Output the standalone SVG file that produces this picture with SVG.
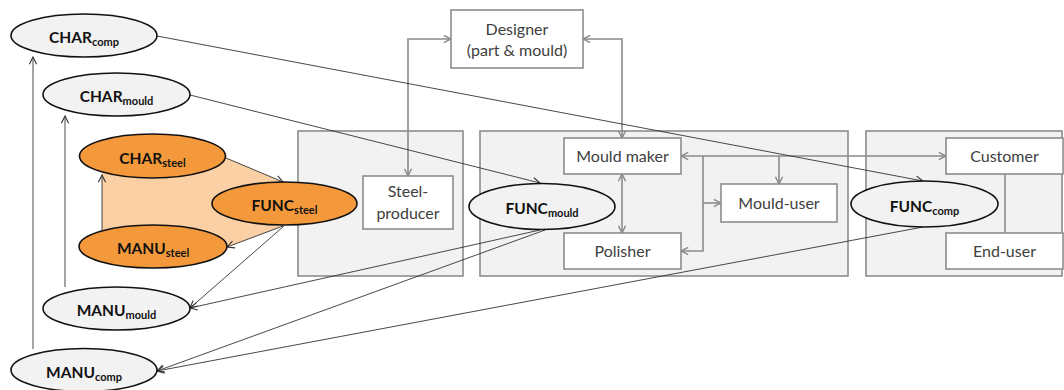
<svg xmlns="http://www.w3.org/2000/svg" width="1064" height="390" viewBox="0 0 1064 390">
<defs>
<marker id="ad" viewBox="0 0 10 10" refX="9" refY="5" markerWidth="9" markerHeight="9" markerUnits="userSpaceOnUse" orient="auto-start-reverse"><path d="M1,1 L9,5 L1,9" fill="none" stroke="#333" stroke-width="1.2"/></marker>
<marker id="ag" viewBox="0 0 10 10" refX="9" refY="5" markerWidth="9" markerHeight="9" markerUnits="userSpaceOnUse" orient="auto-start-reverse"><path d="M1,1 L9,5 L1,9" fill="none" stroke="#8a8a8a" stroke-width="1.6"/></marker>
</defs>
<style>
.panel{fill:#f2f2f2;stroke:#8c8c8c;stroke-width:1.6}
.box{fill:#fff;stroke:#8c8c8c;stroke-width:1.6}
.gl{fill:none;stroke:#8a8a8a;stroke-width:1.6}
.dl{fill:none;stroke:#333;stroke-width:0.9}
.eg{fill:#f2f2f2;stroke:#111;stroke-width:1.6}
.eo{fill:#f4993b;stroke:#111;stroke-width:1.6}
.bt{font-family:Lato,"Open Sans",sans-serif;font-size:16px;fill:#404040;text-anchor:middle}
.et{font-family:Lato,"Open Sans",sans-serif;font-size:15.5px;font-weight:bold;fill:#111;text-anchor:middle}
.sub{font-size:11px}
</style>
<rect width="1064" height="390" fill="#fff"/>
<g id="panels">
<rect class="panel" x="298" y="131" width="165" height="145"/>
<rect class="panel" x="480" y="131" width="368" height="145"/>
<rect class="panel" x="866" y="131" width="196" height="145"/>
</g>
<polygon points="102,158 226,158 283,182 283,226 227,247 102,247" fill="#fad0a4"/>
<g id="connectors">
<path class="gl" d="M408,176 V39 H451" marker-start="url(#ag)" marker-end="url(#ag)"/>
<path class="gl" d="M622,138 V39 H583" marker-start="url(#ag)" marker-end="url(#ag)"/>
<path class="gl" d="M622,174 V233" marker-start="url(#ag)" marker-end="url(#ag)"/>
<path class="gl" d="M681,156 H946" marker-start="url(#ag)" marker-end="url(#ag)"/>
<path class="gl" d="M703,156 V251 H681" marker-end="url(#ag)"/>
<path class="gl" d="M703,203 H721" marker-end="url(#ag)"/>
<path class="gl" d="M779,156 V184" marker-end="url(#ag)"/>
<path class="gl" d="M1005,174 V233"/>
<path class="dl" d="M157,36 L923,181" marker-end="url(#ad)"/>
<path class="dl" d="M190,95 L540,183" marker-end="url(#ad)"/>
<path class="dl" d="M540,230 L190,308" marker-end="url(#ad)"/>
<path class="dl" d="M545,230 L157,371" marker-end="url(#ad)"/>
<path class="dl" d="M923,227 L157,371" marker-end="url(#ad)"/>
<path class="dl" d="M284,226 L190,308" marker-end="url(#ad)"/>
<path class="dl" d="M33,349 V57" marker-end="url(#ad)"/>
<path class="dl" d="M65,287 V116" marker-end="url(#ad)"/>
<path class="dl" d="M102,230 V175" marker-end="url(#ad)"/>
<path class="dl" d="M226,158 L283,182" marker-end="url(#ad)"/>
<path class="dl" d="M283,226 L227,247" marker-end="url(#ad)"/>
</g>
<g id="designer"><rect class="box" x="451" y="10" width="132" height="58"/><text class="bt" x="517" y="35">Designer</text><text class="bt" x="517" y="56">(part &amp; mould)</text></g>
<g id="steel-producer"><rect class="box" x="363" y="176" width="90" height="53"/><text class="bt" x="408" y="197">Steel-</text><text class="bt" x="408" y="219">producer</text></g>
<g id="mould-maker"><rect class="box" x="564" y="138" width="117" height="36"/><text class="bt" x="622.5" y="162">Mould maker</text></g>
<g id="polisher"><rect class="box" x="564" y="233" width="117" height="36"/><text class="bt" x="622.5" y="257">Polisher</text></g>
<g id="mould-user"><rect class="box" x="721" y="184" width="116" height="38"/><text class="bt" x="779" y="209">Mould-user</text></g>
<g id="customer"><rect class="box" x="946" y="138" width="117" height="36"/><text class="bt" x="1004.5" y="162">Customer</text></g>
<g id="end-user"><rect class="box" x="946" y="233" width="117" height="36"/><text class="bt" x="1004.5" y="257">End-user</text></g>
<g id="char-comp"><ellipse class="eg" cx="84" cy="35.5" rx="73" ry="21.5"/><text class="et" x="84" y="43">CHAR<tspan class="sub" dy="3">comp</tspan></text></g>
<g id="char-mould"><ellipse class="eg" cx="116.5" cy="94.5" rx="73.5" ry="21.5"/><text class="et" x="116.5" y="102">CHAR<tspan class="sub" dy="3">mould</tspan></text></g>
<g id="char-steel"><ellipse class="eo" cx="152.5" cy="156" rx="73" ry="22"/><text class="et" x="152.5" y="163.5">CHAR<tspan class="sub" dy="3">steel</tspan></text></g>
<g id="func-steel"><ellipse class="eo" cx="284.5" cy="203.5" rx="72.5" ry="21.5"/><text class="et" x="284.5" y="211">FUNC<tspan class="sub" dy="3">steel</tspan></text></g>
<g id="manu-steel"><ellipse class="eo" cx="153" cy="246.5" rx="74" ry="21.5"/><text class="et" x="153" y="254">MANU<tspan class="sub" dy="3">steel</tspan></text></g>
<g id="manu-mould"><ellipse class="eg" cx="116.5" cy="308.5" rx="73.5" ry="21.5"/><text class="et" x="116.5" y="316">MANU<tspan class="sub" dy="3">mould</tspan></text></g>
<g id="manu-comp"><ellipse class="eg" cx="84" cy="370" rx="73" ry="21.5"/><text class="et" x="84" y="377.5">MANU<tspan class="sub" dy="3">comp</tspan></text></g>
<g id="func-mould"><ellipse class="eg" cx="542" cy="206.5" rx="73" ry="23"/><text class="et" x="542" y="214">FUNC<tspan class="sub" dy="3">mould</tspan></text></g>
<g id="func-comp"><ellipse class="eg" cx="924.5" cy="204" rx="73.5" ry="23"/><text class="et" x="924.5" y="211.5">FUNC<tspan class="sub" dy="3">comp</tspan></text></g>
</svg>
